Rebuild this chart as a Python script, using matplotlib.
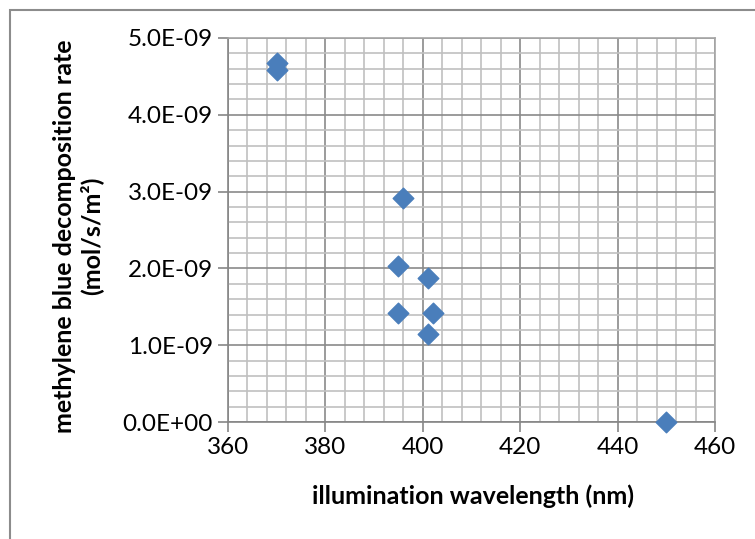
import matplotlib
matplotlib.use("Agg")
import matplotlib.pyplot as plt
from matplotlib.ticker import MultipleLocator, FuncFormatter
from matplotlib.patches import Rectangle

plt.rcParams['font.family'] = ['Lato', 'DejaVu Sans']

# wavelength (nm) and decomposition rate (mol/s/m2)
wavelength = [370, 370, 396, 395, 401, 395, 402, 401, 450]
rate = [4.68e-9, 4.58e-9, 2.92e-9, 2.03e-9, 1.88e-9, 1.42e-9, 1.42e-9, 1.15e-9, 0.0]

fig = plt.figure(figsize=(7.55, 5.39), dpi=100)
ax = fig.add_axes([0.302, 0.217, 0.645, 0.7125])

# outer chart border (runs off the right and bottom of the image)
fig.patches.append(Rectangle((10 / 755, -0.1), 1.2, 1 - 10 / 539 + 0.1,
                             transform=fig.transFigure, fill=False,
                             edgecolor='#8c8c8c', linewidth=1.5))

ax.scatter(wavelength, rate, marker='D', s=110, color='#4a7ebb',
           edgecolors='#4a7ebb', zorder=3, clip_on=False)

ax.set_xlim(360, 460)
ax.set_ylim(0, 5e-9)
ax.xaxis.set_major_locator(MultipleLocator(20))
ax.xaxis.set_minor_locator(MultipleLocator(4))
ax.yaxis.set_major_locator(MultipleLocator(1e-9))
ax.yaxis.set_minor_locator(MultipleLocator(2e-10))
ax.yaxis.set_major_formatter(FuncFormatter(lambda v, pos: '%.1E' % v))

ax.grid(which='major', color='#8a8a8a', linewidth=1.2)
ax.grid(which='minor', color='#c0c0c0', linewidth=1.2)
ax.set_axisbelow(True)
for sp in ax.spines.values():
    sp.set_color('#a6a6a6')
    sp.set_linewidth(1.2)
ax.spines['left'].set_color('#868686')
ax.spines['bottom'].set_color('#868686')

ax.tick_params(which='major', length=7, width=1.2, color='#868686',
               labelsize=17.5, pad=4)
ax.tick_params(which='minor', length=0)

fig.text(473 / 755, 1 - 496 / 539, 'illumination wavelength (nm)',
         fontsize=18, fontweight='bold', ha='center', va='center')
fig.text(78 / 755, 1 - 236 / 539,
         'methylene blue decomposition rate\n(mol/s/m²)',
         fontsize=18, fontweight='bold', ha='center', va='center',
         rotation=90, multialignment='center', linespacing=1.2)

fig.savefig('out.png', dpi=100)
